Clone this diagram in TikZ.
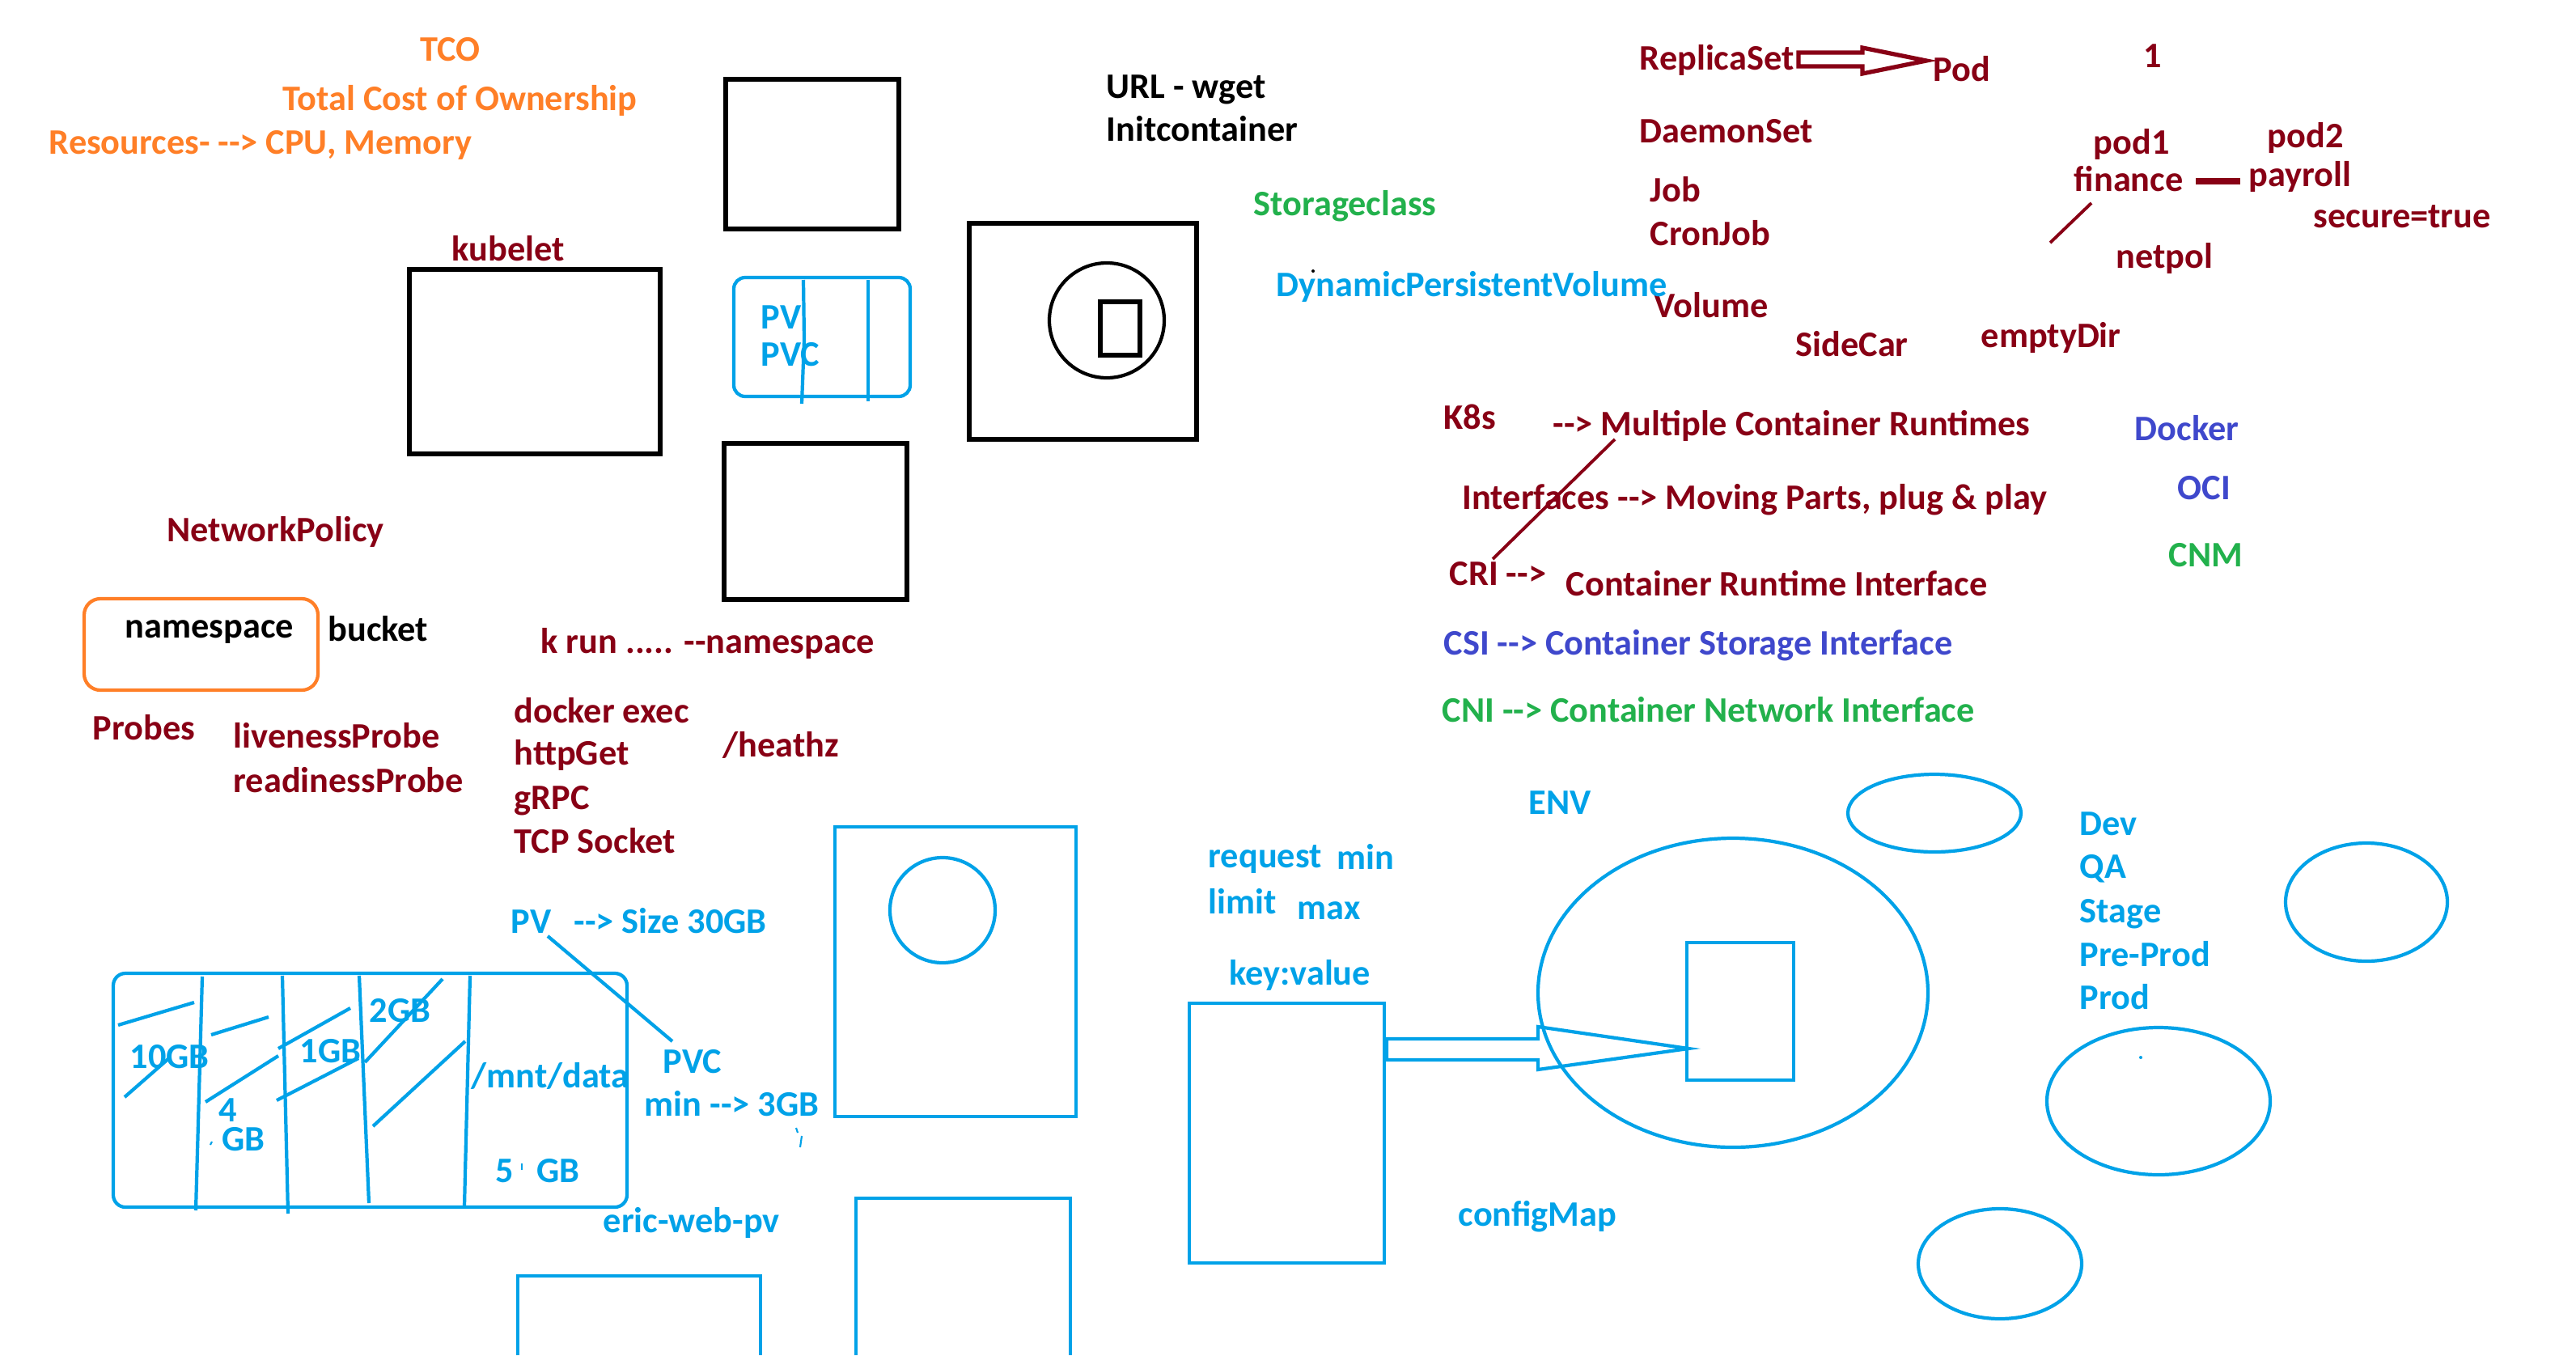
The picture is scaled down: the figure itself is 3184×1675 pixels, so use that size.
\documentclass[tikz,border=0pt]{standalone}
\usepackage{fontspec}
\setmainfont{Carlito}[Ligatures=TeXOff]
\definecolor{dred}{HTML}{880015}
\definecolor{orng}{HTML}{FF7F27}
\definecolor{grn}{HTML}{22B14C}
\definecolor{ind}{HTML}{3F48CC}
\definecolor{blu}{HTML}{00A2E8}
\tikzset{
  txt/.style={anchor=base west, inner sep=0pt, font=\fontsize{12.6}{15}\selectfont\bfseries},
  blk/.style={draw=black, line width=1.5pt},
  bl/.style={draw=blu, line width=1.2pt},
  rd/.style={draw=dred, line width=1.1pt},
}
\begin{document}
\begin{tikzpicture}[x=0.01cm,y=-0.01cm]
\useasboundingbox (0,0) rectangle (3184,1675);
\fill[white] (0,0) rectangle (3184,1675);

% ---------- orange ----------
\node[txt, orng] (tco) at (519,75) {TCO};
\node[txt, orng] (tcolong) at (349,136) {Total Cost of Ownership};
\node[txt, orng] (res) at (60,190) {Resources- --> CPU, Memory};
\draw[draw=orng, line width=1.2pt, rounded corners=0.2cm] (104,740) rectangle (393,853);

% ---------- black ----------
\node[txt, black] (url) at (1367,121) {URL - wget};
\node[txt, black] (init) at (1367,174) {Initcontainer};
\node[txt, black] (ns) at (154,788) {namespace};
\node[txt, black] (bucket) at (405,792) {bucket};
\draw[blk] (897,98) rectangle (1111,283);
\draw[blk] (506,333) rectangle (816,561);
\draw[blk] (895,548) rectangle (1121,741);
\draw[blk] (1198,276) rectangle (1479,543);
\draw[draw=black, line width=1.2pt] (1368,396) circle [radius=71];
\draw[blk] (1360,373) rectangle (1409,439);
\fill[black] (1623,335) circle [radius=2];

% ---------- dark red ----------
\node[txt, dred] (kubelet) at (558,322) {kubelet};
\node[txt, dred] (netpolicy) at (206,669) {NetworkPolicy};
\node[txt, dred] (krun) at (668,807) {k run ..... --namespace};
\node[txt, dred] (probes) at (114,914) {Probes};
\node[txt, dred] (live) at (288,924) {livenessProbe};
\node[txt, dred] (ready) at (288,979) {readinessProbe};
\node[txt, dred] (dexec) at (635,893) {docker exec};
\node[txt, dred] (httpget) at (635,945) {httpGet};
\node[txt, dred] (grpc) at (635,1000) {gRPC};
\node[txt, dred] (tcp) at (635,1054) {TCP Socket};
\node[txt, dred] (healthz) at (893,935) {/heathz};

\node[txt, dred] (rs) at (2026,86) {ReplicaSet};
\node[txt, dred] (pod) at (2389,100) {Pod};
\node[txt, dred] (one) at (2649,83) {1};
\node[txt, dred] (ds) at (2026,176) {DaemonSet};
\node[txt, dred] (job) at (2039,249) {Job};
\node[txt, dred] (cron) at (2039,303) {CronJob};
\node[txt, dred] (pod1) at (2587,190) {pod1};
\node[txt, dred] (pod2) at (2802,182) {pod2};
\node[txt, dred] (fin) at (2563,236) {finance};
\node[txt, dred] (pay) at (2779,230) {payroll};
\node[txt, dred] (secure) at (2859,281) {secure=true};
\node[txt, dred] (netpol) at (2615,331) {netpol};
\node[txt, dred] (vol) at (2044,392) {Volume};
\node[txt, dred] (side) at (2219,440) {SideCar};
\node[txt, dred] (empty) at (2448,429) {emptyDir};
\node[txt, dred] (k8s) at (1784,530) {K8s};
\node[txt, dred] (multi) at (1919,538) {--> Multiple Container Runtimes};
\node[txt, dred] (intf) at (1807,629) {Interfaces --> Moving Parts, plug \& play};
\node[txt, dred] (cri) at (1791,723) {CRI -->};
\node[txt, dred] (crilong) at (1935,736) {Container Runtime Interface};

% ReplicaSet -> Pod block arrow
\draw[draw=dred, line width=1.5pt, line join=miter]
  (2223,65) -- (2302,65) -- (2302,59) -- (2381,75) -- (2302,91) -- (2302,82) -- (2223,82) -- cycle;
% connectors
\coordinate (mlA) at (1996,543);
\coordinate (mlB) at (1845,691);
\draw[rd] (mlA) -- (mlB);
\coordinate (fA) at (2585,251);
\coordinate (fB) at (2534,300);
\draw[rd] (fA) -- (fB);
\coordinate (dA) at (2714,224);
\coordinate (dB) at (2769,224);
\draw[draw=dred, line width=2pt] (dA) -- (dB);

% ---------- indigo ----------
\node[txt, ind] (docker) at (2638,544) {Docker};
\node[txt, ind] (oci) at (2691,617) {OCI};
\node[txt, ind] (csi) at (1784,809) {CSI --> Container Storage Interface};

% ---------- green ----------
\node[txt, grn] (sc) at (1549,266) {Storageclass};
\node[txt, grn] (cnm) at (2680,700) {CNM};
\node[txt, grn] (cni) at (1782,892) {CNI --> Container Network Interface};

% ---------- blue ----------
\node[txt, blu] (dpv) at (1577,366) {DynamicPersistentVolume};
\draw[bl, rounded corners=0.14cm] (907,343) rectangle (1125,490);
\node[txt, blu] (pvA) at (940,406) {PV};
\node[txt, blu] (pvcA) at (940,452) {PVC};
\draw[bl] (993,346) -- (994,420) -- (991,499);
\draw[bl] (1073,346) -- (1073,496);

\node[txt, blu] (env) at (1889,1006) {ENV};
\node[txt, blu] (req) at (1493,1072) {request};
\node[txt, blu] (min) at (1652,1074) {min};
\node[txt, blu] (limit) at (1493,1129) {limit};
\node[txt, blu] (max) at (1603,1136) {max};
\node[txt, blu] (kv) at (1519,1217) {key:value};
\node[txt, blu] (cm) at (1802,1515) {configMap};
\node[txt, blu] (dev) at (2570,1032) {Dev};
\node[txt, blu] (qa) at (2570,1085) {QA};
\node[txt, blu] (stage) at (2570,1140) {Stage};
\node[txt, blu] (preprod) at (2570,1194) {Pre-Prod};
\node[txt, blu] (prod) at (2570,1247) {Prod};

\node[txt, blu] (pvB) at (631,1153) {PV};
\node[txt, blu] (size) at (709,1153) {--> Size 30GB};
\node[txt, blu] (pvcB) at (819,1326) {PVC};
\node[txt, blu] (minB) at (796,1379) {min --> 3GB};
\node[txt, blu] (ten) at (160,1320) {10GB};
\node[txt, blu] (four) at (270,1386) {4};
\node[txt, blu] (fourgb) at (274,1422) {GB};
\node[txt, blu] (onegb) at (370,1313) {1GB};
\node[txt, blu] (twogb) at (456,1263) {2GB};
\node[txt, blu] (mnt) at (582,1344) {/mnt/data};
\node[txt, blu] (five) at (612,1461) {5};
\node[txt, blu] (fivegb) at (663,1461) {GB};
\node[txt, blu] (eric) at (745,1523) {eric-web-pv};

% PV -> PVC line
\coordinate (pvlA) at (677,1157);
\coordinate (pvlB) at (831,1287);
\draw[bl] (pvlA) -- (pvlB);

% storage box
\draw[bl, rounded corners=0.15cm] (140,1203) rectangle (775,1492);
\draw[bl] (250,1207) -- (242,1496);
\draw[bl] (349,1206) -- (356,1500);
\draw[bl] (444,1206) -- (456,1487);
\draw[bl] (581,1206) -- (574,1491);
\draw[bl] (146,1267) -- (240,1239);
\draw[bl] (261,1279) -- (332,1257);
\draw[bl] (154,1356) -- (210,1307);
\draw[bl] (254,1362) -- (344,1305);
\draw[bl] (344,1296) -- (433,1246);
\draw[bl] (342,1360) -- (443,1308);
\draw[bl] (451,1313) -- (547,1210);
\draw[bl] (461,1392) -- (575,1287);
\draw[draw=blu, line width=0.6pt] (645,1438) -- (645,1446);
\draw[draw=blu, line width=0.6pt] (262,1411) -- (260,1415);
\draw[draw=blu, line width=0.6pt] (984,1394) -- (986,1400);
\draw[draw=blu, line width=0.6pt] (991,1404) -- (989,1418);

% pod box
\draw[bl] (1032,1022) rectangle (1330,1380);
\draw[bl] (1165,1125) circle [radius=65];
% open boxes at bottom
\draw[bl] (1058,1675) -- (1058,1481) -- (1323,1481) -- (1323,1675);
\draw[bl] (640,1675) -- (640,1577) -- (940,1577) -- (940,1675);

% configmap box and arrow
\draw[bl] (1470,1240) rectangle (1711,1561);
\draw[draw=blu, line width=1.2pt, line join=miter]
  (1714,1284) -- (1901,1284) -- (1901,1269) -- (2087,1296) -- (1901,1322) -- (1901,1310) -- (1714,1310) -- cycle;
\draw[bl] (2142,1227) ellipse [x radius=241, y radius=191];
\draw[bl] (2085,1165) rectangle (2217,1335);

% env ellipses
\draw[bl] (2391,1005) ellipse [x radius=107, y radius=48];
\draw[bl] (2925,1115) ellipse [x radius=100, y radius=73];
\draw[bl] (2668,1361) ellipse [x radius=138, y radius=91];
\draw[bl] (2472,1562) ellipse [x radius=101, y radius=68];
\fill[blu] (2646,1307) circle [radius=2];
\end{tikzpicture}
\end{document}
